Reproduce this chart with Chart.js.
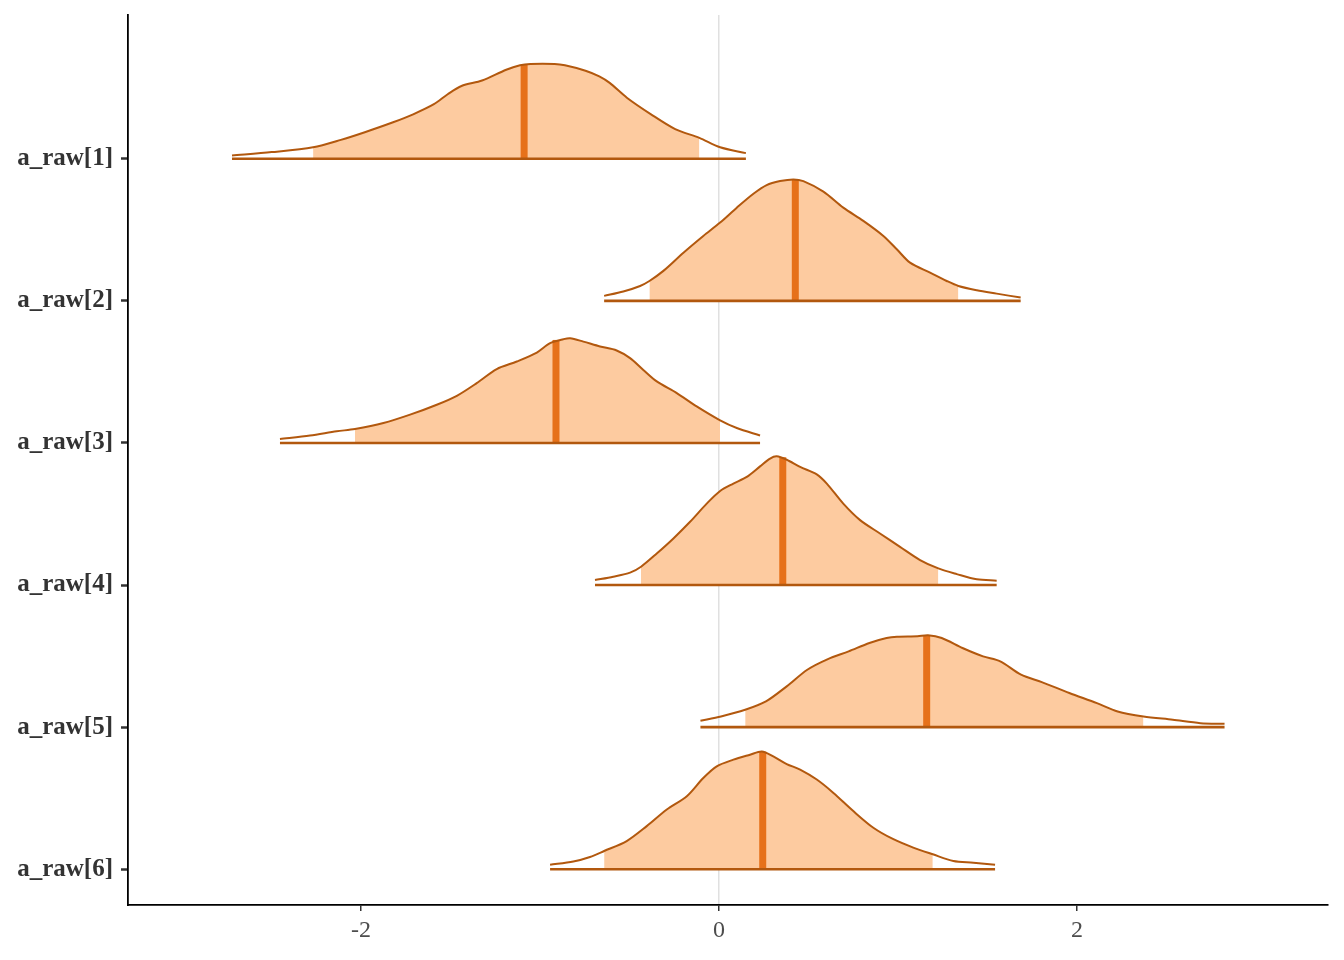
<!DOCTYPE html>
<html>
<head>
<meta charset="utf-8">
<script src="https://cdn.jsdelivr.net/npm/chart.js@4"></script>
<style>
  html, body { margin: 0; padding: 0; background: #ffffff; }
  #wrap { width: 1344px; height: 960px; }
</style>
</head>
<body>
<div id="wrap"><canvas id="areas" width="1344" height="960"></canvas></div>
<script>
// parametros, de cima para baixo
const paramNames = ['a_raw[1]', 'a_raw[2]', 'a_raw[3]', 'a_raw[4]', 'a_raw[5]', 'a_raw[6]'];
const xTicks = [-2, 0, 2];

// curvas de densidade (x, altura em unidades de linha)
const dens1X = [-2.721, -2.499, -2.268, -2.113, -1.979, -1.825, -1.709, -1.593, -1.516, -1.439, -1.324, -1.189, -1.112, -1.054, -0.919, -0.861, -0.746, -0.669, -0.611, -0.515, -0.380, -0.245, -0.110, 0.006, 0.150];
const dens1H = [0.023, 0.047, 0.081, 0.133, 0.187, 0.255, 0.313, 0.384, 0.454, 0.512, 0.551, 0.627, 0.658, 0.667, 0.667, 0.658, 0.620, 0.580, 0.534, 0.430, 0.313, 0.209, 0.147, 0.081, 0.040];

const dens2X = [-0.642, -0.535, -0.441, -0.389, -0.311, -0.199, -0.088, 0.006, 0.099, 0.192, 0.266, 0.341, 0.415, 0.471, 0.583, 0.694, 0.806, 0.918, 0.993, 1.067, 1.179, 1.272, 1.337, 1.440, 1.551, 1.685];
const dens2H = [0.035, 0.066, 0.105, 0.140, 0.211, 0.339, 0.457, 0.551, 0.656, 0.754, 0.815, 0.843, 0.855, 0.843, 0.769, 0.656, 0.563, 0.457, 0.363, 0.269, 0.199, 0.140, 0.105, 0.075, 0.051, 0.023];

const dens3X = [-2.453, -2.285, -2.136, -2.034, -1.875, -1.726, -1.577, -1.465, -1.354, -1.242, -1.130, -1.018, -0.944, -0.870, -0.832, -0.758, -0.665, -0.572, -0.497, -0.423, -0.348, -0.236, -0.125, 0.006, 0.099, 0.229];
const dens3H = [0.028, 0.052, 0.082, 0.098, 0.140, 0.199, 0.269, 0.332, 0.421, 0.520, 0.573, 0.636, 0.702, 0.730, 0.737, 0.713, 0.679, 0.651, 0.597, 0.514, 0.433, 0.351, 0.257, 0.159, 0.105, 0.052];

const dens4X = [-0.693, -0.591, -0.497, -0.436, -0.348, -0.255, -0.162, -0.069, 0.006, 0.080, 0.155, 0.229, 0.285, 0.322, 0.378, 0.453, 0.546, 0.602, 0.694, 0.788, 0.899, 1.011, 1.123, 1.225, 1.328, 1.440, 1.551];
const dens4H = [0.035, 0.059, 0.087, 0.129, 0.222, 0.328, 0.445, 0.573, 0.662, 0.714, 0.761, 0.835, 0.890, 0.906, 0.882, 0.831, 0.779, 0.714, 0.573, 0.457, 0.363, 0.269, 0.176, 0.117, 0.077, 0.040, 0.031];

const dens5X = [-0.104, 0.011, 0.146, 0.262, 0.378, 0.493, 0.608, 0.724, 0.840, 0.936, 0.994, 1.109, 1.167, 1.244, 1.360, 1.475, 1.571, 1.687, 1.803, 1.957, 2.111, 2.227, 2.371, 2.535, 2.689, 2.824];
const dens5H = [0.045, 0.075, 0.122, 0.181, 0.287, 0.404, 0.479, 0.533, 0.592, 0.627, 0.636, 0.639, 0.646, 0.627, 0.557, 0.498, 0.463, 0.369, 0.317, 0.240, 0.169, 0.110, 0.075, 0.052, 0.028, 0.023];

const dens6X = [-0.944, -0.814, -0.721, -0.642, -0.516, -0.404, -0.292, -0.180, -0.088, -0.013, 0.080, 0.173, 0.239, 0.303, 0.378, 0.453, 0.546, 0.639, 0.750, 0.862, 0.974, 1.085, 1.194, 1.309, 1.421, 1.542];
const dens6H = [0.031, 0.054, 0.086, 0.128, 0.198, 0.303, 0.420, 0.514, 0.642, 0.724, 0.771, 0.806, 0.829, 0.794, 0.740, 0.701, 0.631, 0.537, 0.409, 0.292, 0.211, 0.152, 0.105, 0.058, 0.046, 0.031];

// intervalo interno e mediana
const innerLow = [-2.268, -0.389, -2.034, -0.436, 0.146, -0.642];
const innerHigh = [-0.110, 1.337, 0.006, 1.225, 2.371, 1.194];
const medians = [-1.089, 0.426, -0.911, 0.356, 1.160, 0.244];
const medianH = [0.660, 0.853, 0.725, 0.900, 0.643, 0.827];

const densX = [dens1X, dens2X, dens3X, dens4X, dens5X, dens6X];
const densH = [dens1H, dens2H, dens3H, dens4H, dens5H, dens6H];

const corOutline = '#b2580e';
const corFill = '#fdcba0';
const corMedian = '#e6711a';
const suav = 0.3; // suavizacao das curvas

let datasets = [];

for (let i = 0; i < paramNames.length; i++) {
    const base = paramNames.length - i; // a_raw[1] no topo
    const xs = densX[i];
    const hs = densH[i];
    const curve = xs.map((x, k) => ({ x: x, y: base + hs[k] }));
    const inner = curve.filter(p => p.x >= innerLow[i] - 1e-9 && p.x <= innerHigh[i] + 1e-9);

    // area interna
    datasets.push({
        data: inner,
        fill: { value: base },
        backgroundColor: corFill,
        borderWidth: 0,
        borderColor: 'rgba(0,0,0,0)',
        pointRadius: 0,
        tension: suav,
        order: 40
    });
    // mediana
    datasets.push({
        data: [{ x: medians[i], y: base }, { x: medians[i], y: base + medianH[i] }],
        borderColor: corMedian,
        borderWidth: 7,
        borderCapStyle: 'butt',
        pointRadius: 0,
        fill: false,
        order: 30
    });
    // linha de base
    datasets.push({
        data: [{ x: xs[0], y: base }, { x: xs[xs.length - 1], y: base }],
        borderColor: corOutline,
        borderWidth: 2.6,
        borderCapStyle: 'butt',
        pointRadius: 0,
        fill: false,
        order: 20
    });
    // contorno
    datasets.push({
        data: curve,
        borderColor: corOutline,
        borderWidth: 2,
        pointRadius: 0,
        fill: false,
        tension: suav,
        order: 10
    });
}

const ctx = document.getElementById('areas').getContext('2d');
new Chart(ctx, {
    type: 'line',
    data: { datasets: datasets },
    options: {
        responsive: false,
        animation: false,
        layout: { padding: { top: 15, right: 16, left: 0, bottom: 0 } },
        plugins: {
            legend: { display: false },
            tooltip: { enabled: false }
        },
        scales: {
            x: {
                type: 'linear',
                min: -3.302,
                max: 3.402,
                afterBuildTicks: (scale) => { scale.ticks = xTicks.map(v => ({ value: v })); },
                afterFit: (scale) => { scale.height = 55; },
                ticks: {
                    color: '#4d4d4d',
                    font: { family: '"Liberation Serif", "Times New Roman", serif', size: 24 },
                    padding: 5,
                    callback: (v) => String(v)
                },
                grid: {
                    drawOnChartArea: true,
                    color: (c) => (c.tick && c.tick.value === 0 ? '#e0e0e0' : 'rgba(0,0,0,0)'),
                    lineWidth: 1.5,
                    tickColor: '#333333',
                    tickLength: 6
                },
                border: { display: true, color: '#000000', width: 1.8 }
            },
            y: {
                type: 'linear',
                min: 0.748,
                max: 7.012,
                afterBuildTicks: (scale) => { scale.ticks = paramNames.map((_, k) => ({ value: k + 1 })); },
                afterFit: (scale) => {
                    scale.width = 128;
                    scale.paddingTop = 0;
                    scale.paddingBottom = 0;
                },
                ticks: {
                    color: '#333333',
                    font: { family: '"Liberation Serif", "Times New Roman", serif', size: 25, weight: 'bold' },
                    padding: 8,
                    callback: (v) => paramNames[paramNames.length - v]
                },
                grid: {
                    drawOnChartArea: false,
                    tickColor: '#333333',
                    tickLength: 7,
                    tickWidth: 2.5
                },
                border: { display: true, color: '#000000', width: 1.8 }
            }
        }
    }
});
</script>
</body>
</html>
